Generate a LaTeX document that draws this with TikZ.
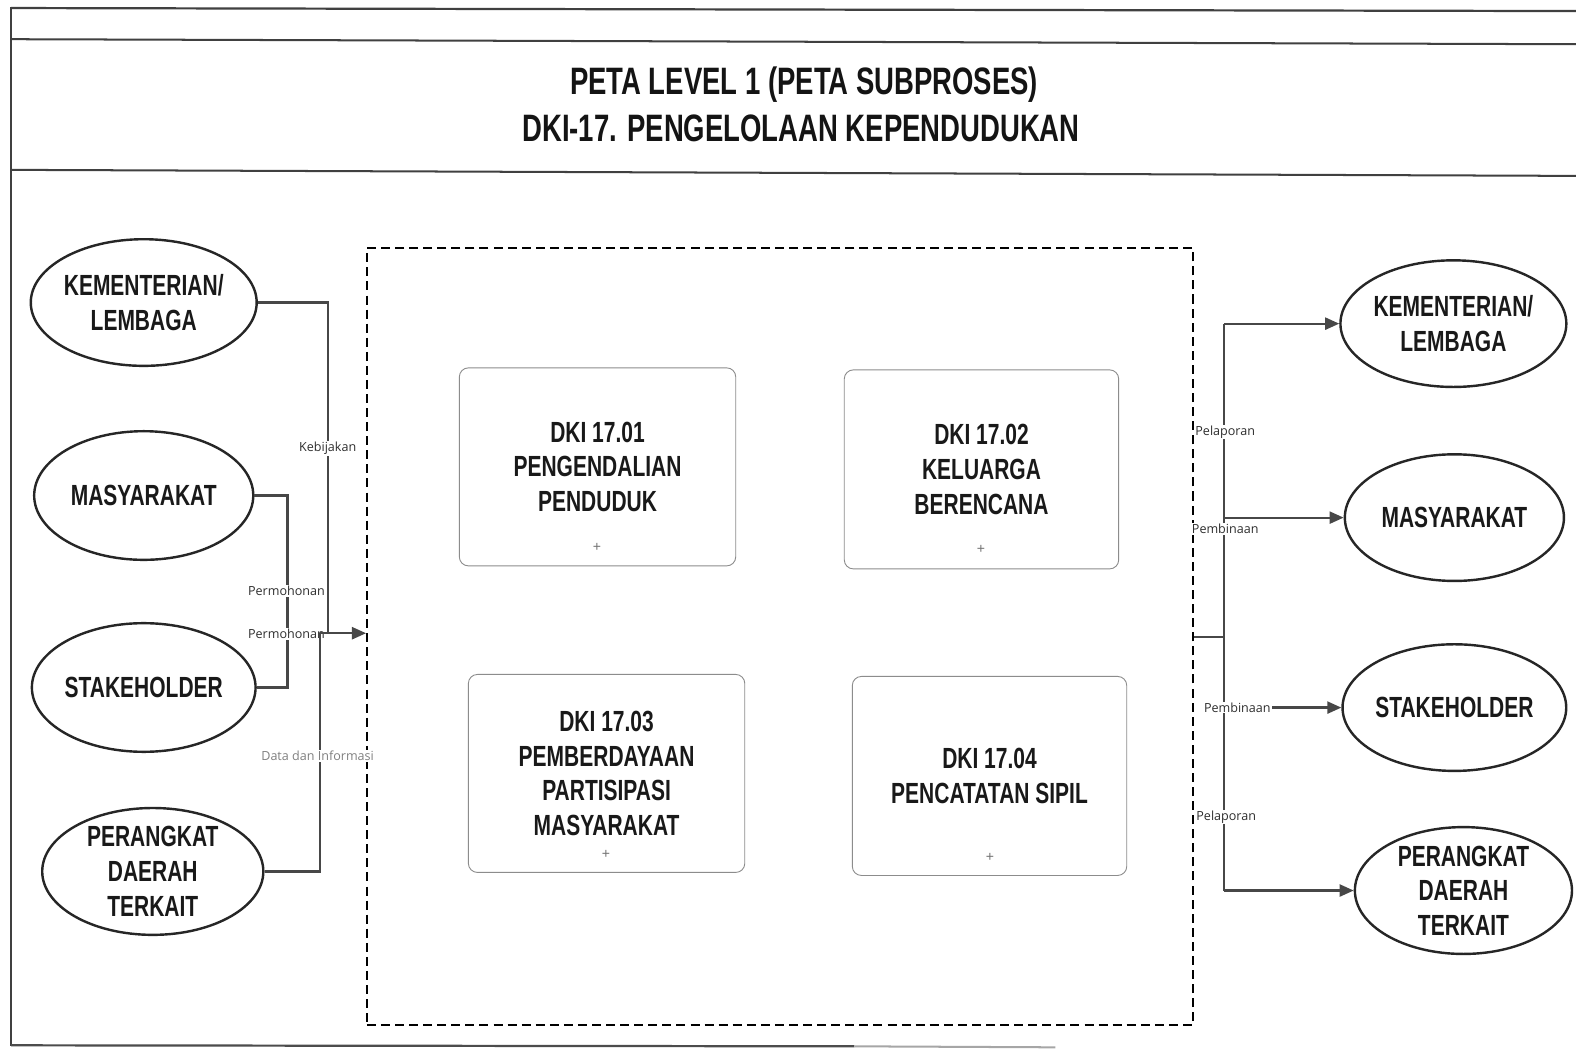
\documentclass[tikz,border=0pt]{standalone}
\usepackage{fontspec}
\setmainfont{Liberation Sans}
\newfontfamily\cond{Liberation Sans}[FakeStretch=0.72]
\newfontfamily\lblfont{Open Sans}
\usetikzlibrary{shapes.geometric,arrows.meta}
\begin{document}
\begin{tikzpicture}[x=1pt,y=-1pt,
  ent/.style={ellipse, draw=black!85, line width=2.4pt, minimum width=218, minimum height=126,
    inner sep=0pt, align=center, font=\cond\bfseries\fontsize{29}{34.5}\selectfont, text=black!90},
  subproc/.style={rectangle, rounded corners=9pt, draw=black!45, line width=0.9pt,
    minimum width=275, minimum height=197, inner sep=0pt, align=center,
    font=\cond\bfseries\fontsize{29}{34.5}\selectfont, text=black!90},
  con/.style={draw=black!72, line width=2.2pt},
  arr/.style={con, -{Triangle[length=14pt,width=12pt]}},
  lab/.style={fill=white, inner sep=1pt, font=\lblfont\fontsize{12.5}{14}\selectfont, text=black!82},
  plusmark/.style={inner sep=0pt, font=\fontsize{14}{14}\selectfont, text=black!55},
  ttl/.style={inner sep=0pt, font=\cond\bfseries\fontsize{38}{44}\selectfont, text=black!92}
]
\useasboundingbox (0,0) rectangle (1568,1043);
\fill[white] (0,0) rectangle (1568,1043);

% page frame
\draw[black!75, line width=2.2pt] (11,8) -- (1568,11);
\draw[black!75, line width=2pt] (11,39) -- (1568,44);
\draw[black!75, line width=2pt] (11,169) -- (1568,175);
\draw[black!75, line width=2.4pt] (11,7) -- (11,1041);
\draw[black!70, line width=2.2pt] (11,1040) -- (850,1041);
\draw[black!35, line width=2pt] (850,1041) -- (1050,1042);

% title
\node[ttl] (t1) at (800,84) {PETA LEVEL 1 (PETA SUBPROSES)};
\node[ttl] (t2) at (797,128) {DKI-17. PENGELOLAAN KEPENDUDUKAN};

% dashed process frame
\node[draw=black, line width=1.6pt, dash pattern=on 9pt off 5pt, minimum width=822, minimum height=773, inner sep=0pt] (frame) at (776,633.5) {};

% sub-process boxes
\node[subproc] (b1) at (594.5,464.5) {DKI 17.01\\PENGENDALIAN\\PENDUDUK};
\node[subproc, minimum width=273, minimum height=198] (b2) at (976.5,467) {DKI 17.02\\KELUARGA\\BERENCANA};
\node[subproc] (b3) at (603.5,769.5) {DKI 17.03\\PEMBERDAYAAN\\PARTISIPASI\\MASYARAKAT};
\node[subproc, minimum width=273, minimum height=198] (b4) at (984.5,772) {DKI 17.04\\PENCATATAN SIPIL};
\node[plusmark] (p1) at (594,545) {+};
\node[plusmark] (p2) at (976,547) {+};
\node[plusmark] (p3) at (603,850) {+};
\node[plusmark] (p4) at (985,853) {+};

% left entities
\node[ent] (L1) at (143,301) {KEMENTERIAN/\\LEMBAGA};
\node[ent, minimum height=128] (L2) at (143,493) {MASYARAKAT};
\node[ent, minimum height=128] (L3) at (143,684) {STAKEHOLDER};
\node[ent, minimum width=220, minimum height=124] (L4) at (152,867) {PERANGKAT\\DAERAH\\TERKAIT};

% right entities
\node[ent, minimum width=216] (R1) at (1446,322) {KEMENTERIAN/\\LEMBAGA};
\node[ent] (R2) at (1447,515) {MASYARAKAT};
\node[ent] (R3) at (1447,704) {STAKEHOLDER};
\node[ent, minimum width=216, minimum height=124] (R4) at (1456,886) {PERANGKAT\\DAERAH\\TERKAIT};

% left connectors
\coordinate (kebx) at (326,630);
\coordinate (mx) at (286,590);
\coordinate (datx) at (318,630);
\draw[con] (L1.east) -| (kebx);
\draw[con] (L2.east) -| (mx) |- (L3.east);
\node[lab] (lkeb) at (326,446) {Kebijakan};
\node[lab] (lper1) at (285,588) {Permohonan};
\node[lab] (lper2) at (285,631) {Permohonan};
\draw[con] (L4.east) -| (datx);
\node[lab, text=black!50] (ldat) at (316,752) {Data dan Informasi};
\draw[arr] (datx) -- (frame.west |- datx);

% right connectors
\coordinate (rbus) at (1218,633.5);
\draw[con] (frame.east |- rbus) -- (rbus);
\draw[con] (rbus |- R1.west) -- (rbus |- R4.west);
\draw[arr] (rbus |- R1.west) -- (R1.west);
\draw[arr] (rbus |- R2.west) -- (R2.west);
\draw[arr] (rbus |- R3.west) -- (R3.west);
\draw[arr] (rbus |- R4.west) -- (R4.west);
\node[lab] (rpel1) at (1219,430) {Pelaporan};
\node[lab] (rpem1) at (1219,526) {Pembinaan};
\node[lab] (rpem2) at (1231,704) {Pembinaan};
\node[lab] (rpel2) at (1220,813) {Pelaporan};
\end{tikzpicture}
\end{document}
